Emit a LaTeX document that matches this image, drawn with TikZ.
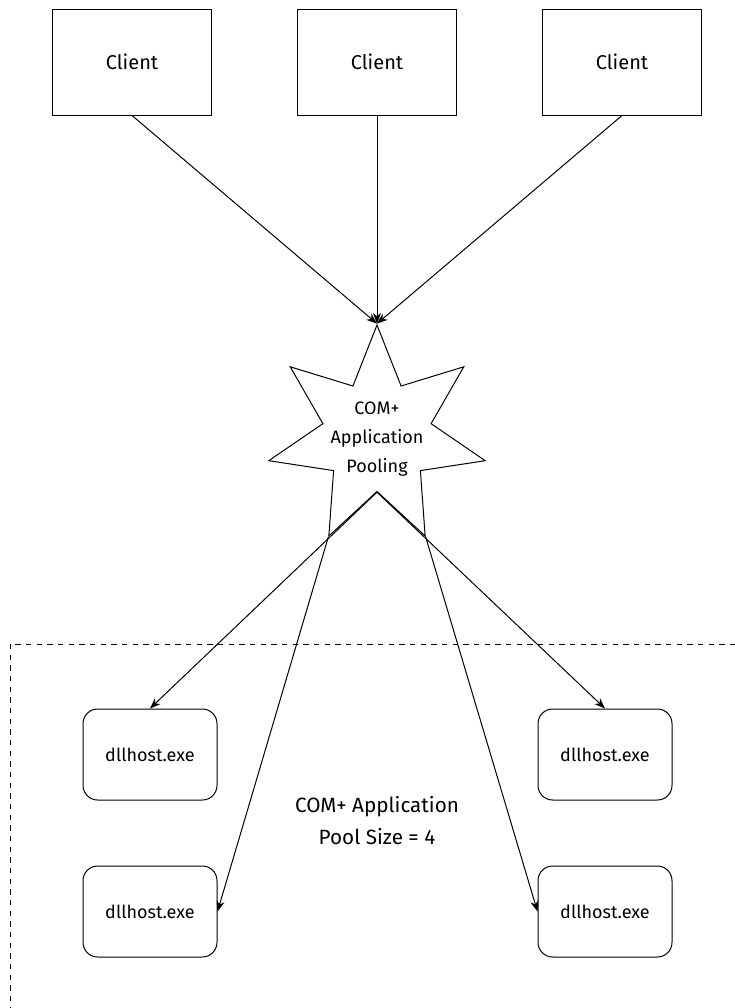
\documentclass[tikz,border=0pt]{standalone}
\usepackage{fontspec}
\setmainfont{Fira Sans}
\usetikzlibrary{positioning,arrows.meta,shapes.geometric}

\begin{document}
\begin{tikzpicture}[x=0.75pt,y=-0.75pt,line width=0.75pt,
                    clientbox/.style={draw,minimum width=119.25pt,minimum height=79.5pt,font=\fontsize{15}{18}\selectfont},
                    hostbox/.style={draw,rounded corners=11pt,minimum width=100.5pt,minimum height=68.25pt,font=\fontsize{13.5}{16}\selectfont},
                    poolstar/.style={draw,star,star points=7,star point ratio=2,minimum size=166.5pt,inner sep=0pt},
                    >={Stealth[length=8pt,width=6pt,inset=2.5pt]},node distance=63.75pt]
  \useasboundingbox (0,0) rectangle (735,1008);
  \draw[dash pattern=on 4pt off 4pt] (10,644) rectangle (760,1030);
  \node[clientbox] (c2) at (377,62) {Client};
  \node[clientbox,left=of c2] (c1) {Client};
  \node[clientbox,right=of c2] (c3) {Client};
  \node[poolstar] (pool) at (377,436) {};
  \node[align=center,font=\fontsize{13.5}{21.75}\selectfont] (poollbl) at (377,439) {COM+\\Application\\Pooling};
  \node[hostbox] (h1) at (150,754.5) {dllhost.exe};
  \node[hostbox] (h2) at (605,754.5) {dllhost.exe};
  \node[hostbox,below=48.75pt of h1] (h3) {dllhost.exe};
  \node[hostbox,below=48.75pt of h2] (h4) {dllhost.exe};
  \node[align=center,font=\fontsize{15.5}{24}\selectfont] (poolsize) at (377,821) {COM+ Application\\Pool Size = 4};
  \foreach \c in {c1,c2,c3}
    \draw[->] (\c.south) -- (pool.north);
  \draw[->] (pool.south) -- (h1.north);
  \draw[->] (pool.south) -- (h2.north);
  \draw[->] (pool.outer point 4) -- (h3.east);
  \draw[->] (pool.outer point 5) -- (h4.west);
\end{tikzpicture}
\end{document}
